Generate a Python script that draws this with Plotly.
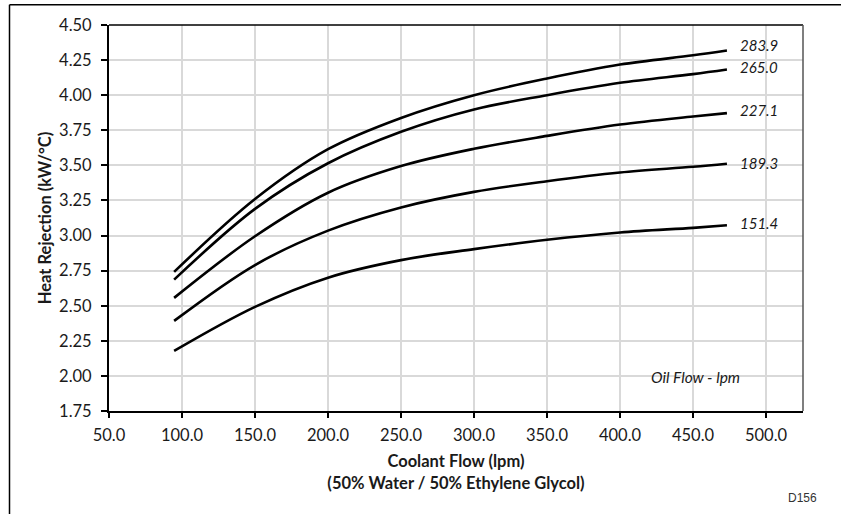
import plotly.graph_objects as go

# Coolant flow (lpm) at which each curve was evaluated
coolant_flow = [94.6, 150.0, 200.0, 250.0, 300.0, 350.0, 400.0, 450.0, 473.2]

# Heat rejection (kW/°C) for each oil flow (lpm)
oil_flows = ["283.9", "265.0", "227.1", "189.3", "151.4"]
heat_283_9 = [2.741, 3.260, 3.615, 3.838, 4.000, 4.119, 4.218, 4.284, 4.318]
heat_265_0 = [2.686, 3.190, 3.515, 3.739, 3.898, 4.000, 4.088, 4.150, 4.183]
heat_227_1 = [2.556, 2.995, 3.305, 3.495, 3.618, 3.710, 3.791, 3.848, 3.872]
heat_189_3 = [2.392, 2.790, 3.035, 3.200, 3.311, 3.387, 3.449, 3.490, 3.512]
heat_151_4 = [2.178, 2.492, 2.700, 2.825, 2.903, 2.970, 3.022, 3.055, 3.073]
series = [heat_283_9, heat_265_0, heat_227_1, heat_189_3, heat_151_4]

x_ticks = [50, 100, 150, 200, 250, 300, 350, 400, 450, 500]
y_ticks = [1.75, 2.00, 2.25, 2.50, 2.75, 3.00, 3.25, 3.50, 3.75, 4.00, 4.25, 4.50]

W, H = 841, 514
ML, MR, MT, MB = 109, 38, 25, 103
PW, PH = W - ML - MR, H - MT - MB

FONT = "Lato"
INK = "#1a1a1a"

fig = go.Figure()
label_shift = [6, 3, 3, 1, 2]
for name, ys, dy in zip(oil_flows, series, label_shift):
    fig.add_trace(go.Scatter(
        x=coolant_flow, y=ys, mode="lines", name=name,
        line=dict(color="black", width=2.6, shape="spline", smoothing=1.0),
        showlegend=False, hoverinfo="x+y+name",
    ))
    fig.add_annotation(
        x=coolant_flow[-1], y=ys[-1], xref="x", yref="y",
        text=f"<i>{name}</i>", showarrow=False,
        xanchor="left", yanchor="middle", xshift=11, yshift=dy,
        font=dict(family=FONT, size=15, color=INK),
    )

fig.add_annotation(
    x=452, y=1.99, xref="x", yref="y", text="<i>Oil Flow - lpm</i>",
    showarrow=False, xanchor="center", yanchor="middle",
    font=dict(family=FONT, size=15.5, color=INK),
)

def px_x(p):
    return (p - ML) / PW

def px_y(p):
    return 1 - (p - MT) / PH

fig.add_annotation(
    x=px_x(802), y=px_y(498), xref="paper", yref="paper", text="D156",
    showarrow=False, xanchor="center", yanchor="middle",
    font=dict(family="Liberation Sans", size=12, color="#333333"),
)

# Outer frame (left and top edges)
frame = dict(color="black", width=1.5)
fig.add_shape(type="line", xref="paper", yref="paper",
              x0=px_x(9.5), x1=px_x(9.5), y0=px_y(H + 5), y1=px_y(4.7), line=frame)
fig.add_shape(type="line", xref="paper", yref="paper",
              x0=px_x(9.5), x1=px_x(W + 5), y0=px_y(4.7), y1=px_y(4.7), line=frame)

fig.update_xaxes(
    range=[50, 525.3], tickvals=x_ticks, tickformat=".1f",
    showgrid=True, gridcolor="#d9d9d9", gridwidth=1.5,
    showline=True, linecolor="black", linewidth=2, mirror=False,
    ticks="outside", ticklen=5, tickcolor="black", tickwidth=1.5,
    ticklabelstandoff=3,
    tickfont=dict(family=FONT, size=16.5, color=INK),
    title=dict(text="<b>Coolant Flow (lpm)<br>(50% Water / 50% Ethylene Glycol)</b>",
               font=dict(family=FONT, size=16.5, color=INK), standoff=12),
    zeroline=False, fixedrange=True,
)
fig.update_yaxes(
    range=[1.75, 4.5], tickvals=y_ticks, tickformat=".2f",
    showgrid=True, gridcolor="#d9d9d9", gridwidth=1.5,
    showline=True, linecolor="black", linewidth=2, mirror=False,
    ticks="outside", ticklen=6, tickcolor="black", tickwidth=1.5,
    ticklabelstandoff=6,
    tickfont=dict(family=FONT, size=16.5, color=INK),
    title=dict(text="<b>Heat Rejection (kW/°C)</b>",
               font=dict(family=FONT, size=16.5, color=INK), standoff=3),
    zeroline=False, fixedrange=True,
)

# Plot-area top and right borders
fig.add_shape(type="line", xref="paper", yref="paper", x0=0, x1=1, y0=1, y1=1,
              line=dict(color="black", width=1.5))
fig.add_shape(type="line", xref="paper", yref="paper", x0=1, x1=1, y0=0, y1=1,
              line=dict(color="#555555", width=1.5))

fig.update_layout(
    width=W, height=H,
    margin=dict(l=ML, r=MR, t=MT, b=MB, autoexpand=False),
    paper_bgcolor="white", plot_bgcolor="white",
    font=dict(family=FONT),
)

fig.write_html("out.html")
